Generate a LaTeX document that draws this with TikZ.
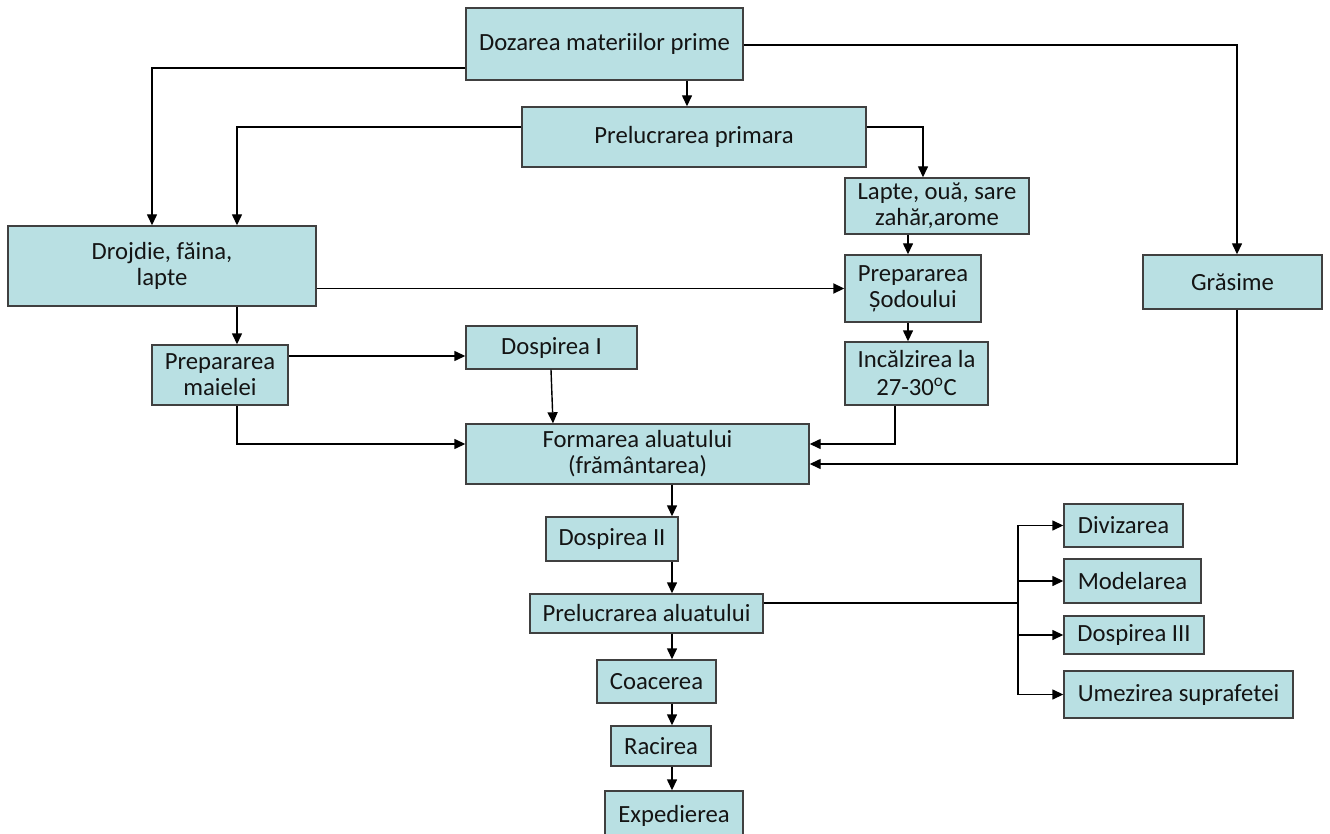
\documentclass[tikz,border=0pt]{standalone}
\usepackage{fontspec}
\setmainfont{Carlito}
\usetikzlibrary{arrows.meta}
\definecolor{boxfill}{RGB}{185,224,227}
\definecolor{boxline}{RGB}{64,64,64}
\definecolor{txt}{RGB}{20,20,20}
\begin{document}
\begin{tikzpicture}[x=1pt,y=-1pt,
  box/.style={draw=boxline,line width=1.4pt,fill=boxfill,text=txt,align=center,
    inner sep=0pt,font=\fontsize{24.7pt}{26pt}\selectfont},
  arr/.style={line width=1.4pt,-{Triangle[length=11pt,width=10pt]}},
  ln/.style={line width=1.2pt}]
\useasboundingbox (0,0) rectangle (1330,834);
\clip (0,0) rectangle (1330,834);

% process boxes: position = centre, size = width x height
\node[box,minimum width=277pt,minimum height=72pt] (doz)   at (604.5,44)   {Dozarea materiilor prime};
\node[box,minimum width=344pt,minimum height=60pt] (prim)  at (694,137)    {Prelucrarea primara};
\node[box,minimum width=184pt,minimum height=56pt] (lapte) at (937,206)    {Lapte, ouă, sare\\zahăr,arome};
\node[box,minimum width=308pt,minimum height=80pt] (droj)  at (162,266)    {Drojdie, făina,\\lapte};
\node[box,minimum width=136pt,minimum height=67pt] (sod)   at (913,288.5)  {Prepararea\\Șodoului};
\node[box,minimum width=179pt,minimum height=54pt] (gras)  at (1232.5,282) {Grăsime};
\node[box,minimum width=136pt,minimum height=60pt] (maia)  at (220,375)    {Prepararea\\maielei};
\node[box,minimum width=171pt,minimum height=43pt] (dsp1)  at (551.5,347.5){Dospirea I};
\node[box,minimum width=143pt,minimum height=63pt] (inc)   at (916.5,373.5){Incălzirea la\\[2pt]27-30\textsuperscript{o}C};
\node[box,minimum width=343pt,minimum height=60pt] (form)  at (637.5,454)  {Formarea aluatului\\(frământarea)};
\node[box,minimum width=132pt,minimum height=44pt] (dsp2)  at (612,539)    {Dospirea II};
\node[box,minimum width=233pt,minimum height=39pt] (prel)  at (646.5,613.5){Prelucrarea aluatului};
\node[box,minimum width=119pt,minimum height=43pt] (coac)  at (656.5,681.5){Coacerea};
\node[box,minimum width=100pt,minimum height=40pt] (rac)   at (661,746)    {Racirea};
\node[box,minimum width=138pt,minimum height=49pt] (exped) at (674,815.5)  {Expedierea};
\node[box,minimum width=119pt,minimum height=43pt] (div)   at (1123.5,525.5){Divizarea};
\node[box,minimum width=137pt,minimum height=44pt] (mod)   at (1132.5,581) {Modelarea};
\node[box,minimum width=140pt,minimum height=38pt] (dsp3)  at (1134,635)   {Dospirea III};
\node[box,minimum width=229pt,minimum height=47pt] (umez)  at (1178.5,694.5){Umezirea suprafetei};

% top branches
\draw[arr] (doz.south -| 687,0) -- (prim.north -| 687,0);
\draw[arr] (doz.west |- 0,68) -| (droj.north -| 152,0);
\draw[arr] (prim.west |- 0,127) -| (droj.north -| 237,0);
\draw[arr] (prim.east |- 0,127) -| (lapte.north -| 923,0);
\draw[arr] (doz.east |- 0,45) -| (gras.north -| 1237,0);
\draw[arr] (lapte.south -| 908,0) -- (sod.north -| 908,0);
\draw[arr,line width=1.8pt] (droj.east |- sod.west) -- (sod.west);

% middle row
\draw[arr] (droj.south -| 237,0) -- (maia.north -| 237,0);
\draw[arr] (maia.east |- 0,356) -- (dsp1.west |- 0,356);
\draw[arr] (dsp1.south -| 551,0) -- (form.north -| 553,0);
\draw[arr] (sod.south -| 908,0) -- (inc.north -| 908,0);
\draw[arr] (maia.south -| 237,0) |- (form.west |- 0,444);
\draw[arr] (inc.south -| 895,0) |- (form.east |- 0,444);
\draw[arr] (gras.south -| 1237,0) |- (form.east |- 0,464);

% main line
\draw[arr] (form.south -| 672,0) -- (dsp2.north -| 672,0);
\draw[arr] (dsp2.south -| 672,0) -- (prel.north -| 672,0);
\draw[arr] (prel.south -| 672,0) -- (coac.north -| 672,0);
\draw[arr] (coac.south -| 672,0) -- (rac.north -| 672,0);
\draw[arr] (rac.south -| 672,0) -- (exped.north -| 672,0);

% dough processing operations
\coordinate (bus) at (1018,603);
\draw[ln] (prel.east |- bus) -- (bus);
\draw[arr] (bus) |- (div.west);
\draw[arr] (bus) |- (mod.west);
\draw[arr] (bus) |- (dsp3.west);
\draw[arr] (bus) |- (umez.west);
\end{tikzpicture}
\end{document}
